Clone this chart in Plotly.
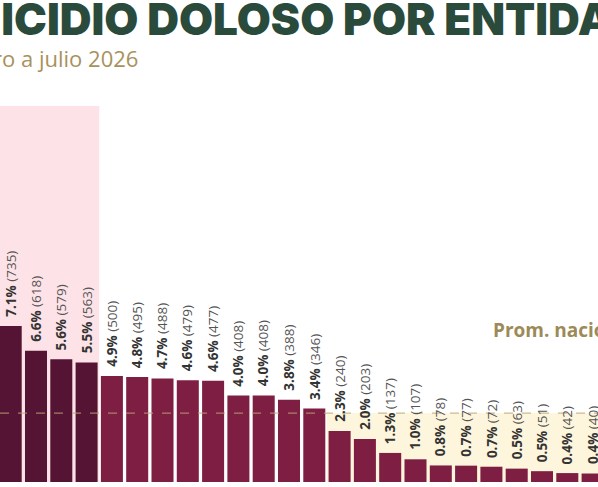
import plotly.graph_objects as go

# ---- data ----
ranks = list(range(24))
counts = [735, 618, 579, 563, 500, 495, 488, 479, 477, 408, 408, 388, 346,
          240, 203, 137, 107, 78, 77, 72, 63, 51, 42, 40]
pcts = ["7.1%", "6.6%", "5.6%", "5.5%", "4.9%", "4.8%", "4.7%", "4.6%", "4.6%",
        "4.0%", "4.0%", "3.8%", "3.4%", "2.3%", "2.0%", "1.3%", "1.0%", "0.8%",
        "0.7%", "0.7%", "0.5%", "0.5%", "0.4%", "0.4%"]
highlighted = 4          # bars inside the pink block
national_avg = 325
title_text = "HOMICIDIO DOLOSO POR ENTIDAD"
subtitle_text = "Enero a julio 2026"
avg_label = "Prom. nacional"

W, H = 598, 487
DARK = "#561434"
WINE = "#7e1e42"

colors = [DARK if i < highlighted else WINE for i in ranks]

fig = go.Figure()
fig.add_trace(go.Bar(
    x=ranks, y=counts, marker=dict(color=colors, line=dict(width=0)),
    hoverinfo="skip", showlegend=False,
))

annotations = []
for x, c, p in zip(ranks, counts, pcts):
    annotations.append(dict(
        x=x, y=c, xref="x", yref="y",
        text=f"<b>{p}</b> <span style='color:#555'>({c})</span>",
        textangle=-90, showarrow=False, xanchor="center", yanchor="bottom",
        yshift=7, font=dict(family="Open Sans", size=13.5, color="#333333"),
    ))

# title / subtitle (cropped at the left edge like the reference)
annotations.append(dict(
    x=-110 / W, y=1, xref="paper", yref="paper", yanchor="bottom", xanchor="left",
    yshift=106 - 48, text=title_text, showarrow=False,
    font=dict(family="Inter", size=44, color="#2a4a3c", weight=900),
))
annotations.append(dict(
    x=-47 / W, y=1, xref="paper", yref="paper", yanchor="bottom", xanchor="left",
    yshift=106 - 75, text=subtitle_text, showarrow=False,
    font=dict(family="Open Sans", size=22, color="#a8925c"),
))
annotations.append(dict(
    x=491 / W, y=national_avg, xref="paper", yref="y", xanchor="left", yanchor="middle",
    yshift=83, text=f"<b>{avg_label}</b>", showarrow=False,
    font=dict(family="Open Sans", size=19, color="#9c8a58"),
))

shapes = [
    dict(type="rect", xref="x", yref="paper", x0=-2, x1=highlighted - 0.5, y0=0, y1=1,
         fillcolor="#fde3e7", line=dict(width=0), layer="below"),
    dict(type="rect", xref="x", yref="y", x0=12.5, x1=30, y0=0, y1=national_avg,
         fillcolor="#fdf5dc", line=dict(width=0), layer="below"),
    dict(type="line", xref="paper", yref="y", x0=0, x1=1, y0=national_avg, y1=national_avg,
         line=dict(color="rgba(185,165,115,0.75)", width=1.2, dash="dash"), layer="above"),
]

px_per_unit = 25.3
c0 = 10.7
fig.update_layout(
    width=W, height=H,
    margin=dict(l=0, r=0, t=106, b=5, pad=0),
    paper_bgcolor="white", plot_bgcolor="white",
    bargap=0.13,
    xaxis=dict(range=[-c0 / px_per_unit, (W - c0) / px_per_unit], showticklabels=False,
               showgrid=False, zeroline=False, showline=False, ticks=""),
    yaxis=dict(range=[0, 1772], showticklabels=False, showgrid=False, zeroline=False,
               showline=False, ticks=""),
    annotations=annotations, shapes=shapes,
)

fig.write_html("out.html", config={"displayModeBar": False, "staticPlot": True},
               post_script="document.body.style.margin='0';document.body.style.overflow='hidden';")
